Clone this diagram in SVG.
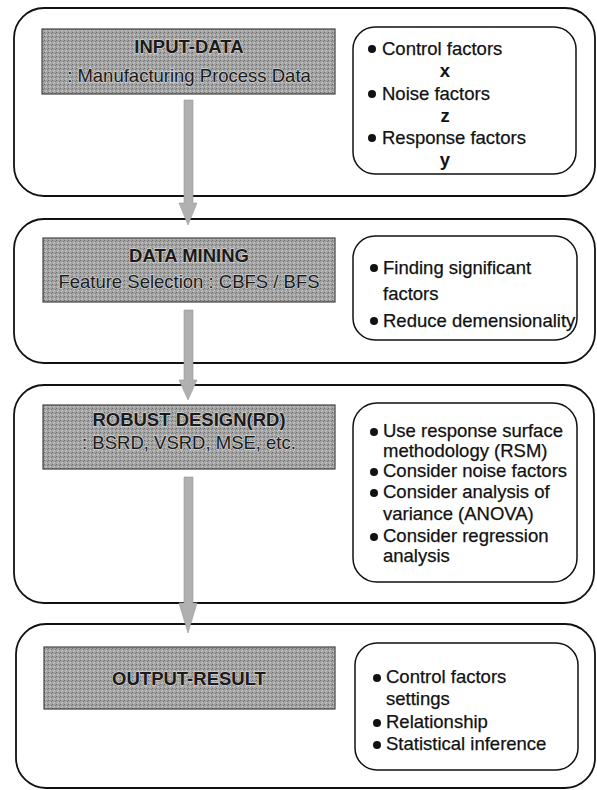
<svg xmlns="http://www.w3.org/2000/svg" width="597" height="790" viewBox="0 0 597 790">
<defs>
<style>
.outer{fill:none;stroke:#111;stroke-width:1.8}
.inner{fill:none;stroke:#111;stroke-width:1.5}
.gray{fill:#989898;stroke:#444;stroke-width:1.2}
.grain{fill:#000;opacity:0.18}
.gt{font-family:"Liberation Sans",Arial,sans-serif;font-size:18.5px;fill:#1a1a1a;text-anchor:middle;stroke:#d0d0d0;stroke-width:1.3;paint-order:stroke}
.gb{font-weight:bold}
.t{font-family:"Liberation Sans",Arial,sans-serif;font-size:18.5px;fill:#111;stroke:#111;stroke-width:0.25}
.v{font-family:"Liberation Sans",Arial,sans-serif;font-size:18.5px;font-weight:bold;fill:#111;text-anchor:middle}
.dot{fill:#111}
.arrow{fill:#b0b0b0;stroke:#999;stroke-width:0.6}
</style>
<pattern id="stip" width="4" height="4" patternUnits="userSpaceOnUse">
<rect width="4" height="4" fill="#a2a2a2"/>
<rect width="1" height="1" fill="#6a6a6a"/>
<rect x="2" y="2" width="1" height="1" fill="#d0d0d0"/>
<rect x="3" y="1" width="1" height="1" fill="#7a7a7a"/>
<rect x="1" y="3" width="1" height="1" fill="#c4c4c4"/>
</pattern>
</defs>
<rect width="597" height="790" fill="#fff"/>

<g id="input">
<rect class="outer" x="14" y="8" width="581" height="188" rx="30"/>
<rect class="gray" x="42" y="29" width="293" height="65" fill="url(#stip)" style="fill:url(#stip)"/>
<text class="gt gb" x="189" y="53">INPUT-DATA</text>
<text class="gt" x="189" y="82">: Manufacturing Process Data</text>
</g>
<g id="input-detail">
<rect class="inner" x="353" y="27" width="223" height="147" rx="22"/>
<circle class="dot" cx="372" cy="49" r="4"/>
<text class="t" x="382" y="55">Control factors</text>
<text class="v" x="445" y="77">x</text>
<circle class="dot" cx="372" cy="94" r="4"/>
<text class="t" x="382" y="100">Noise factors</text>
<text class="v" x="445" y="122">z</text>
<circle class="dot" cx="372" cy="138" r="4"/>
<text class="t" x="382" y="144">Response factors</text>
<text class="v" x="445" y="166">y</text>
</g>

<g id="mining">
<rect class="outer" x="14" y="219" width="581" height="144" rx="30"/>
<rect class="gray" x="43" y="238" width="292" height="64" style="fill:url(#stip)"/>
<text class="gt gb" x="189" y="262">DATA  MINING</text>
<text class="gt" x="189" y="288">Feature Selection : CBFS / BFS</text>
</g>
<g id="mining-detail">
<rect class="inner" x="353" y="236" width="224" height="104" rx="22"/>
<circle class="dot" cx="374" cy="268" r="4"/>
<text class="t" x="383" y="274">Finding significant</text>
<text class="t" x="383" y="300">factors</text>
<circle class="dot" cx="374" cy="321" r="4"/>
<text class="t" x="383" y="327">Reduce demensionality</text>
</g>

<g id="robust">
<rect class="outer" x="14" y="385" width="580" height="218" rx="30"/>
<rect class="gray" x="43" y="405" width="292" height="64" style="fill:url(#stip)"/>
<text class="gt gb" x="189" y="426">ROBUST DESIGN(RD)</text>
<text class="gt" x="189" y="449">: BSRD, VSRD, MSE, etc.</text>
</g>
<g id="robust-detail">
<rect class="inner" x="353" y="403" width="224" height="179" rx="24"/>
<circle class="dot" cx="374" cy="432" r="4"/>
<text class="t" x="383" y="437">Use response surface</text>
<text class="t" x="383" y="457">methodology (RSM)</text>
<circle class="dot" cx="374" cy="472" r="4"/>
<text class="t" x="383" y="477">Consider noise factors</text>
<circle class="dot" cx="374" cy="493" r="4"/>
<text class="t" x="383" y="498">Consider analysis of</text>
<text class="t" x="383" y="520">variance (ANOVA)</text>
<circle class="dot" cx="374" cy="537" r="4"/>
<text class="t" x="383" y="542">Consider regression</text>
<text class="t" x="383" y="562">analysis</text>
</g>

<g id="output">
<rect class="outer" x="16" y="624" width="579" height="164" rx="30"/>
<rect class="gray" x="44" y="647" width="291" height="62" style="fill:url(#stip)"/>
<text class="gt gb" x="189" y="685">OUTPUT-RESULT</text>
</g>
<g id="output-detail">
<rect class="inner" x="355" y="643" width="223" height="127" rx="22"/>
<circle class="dot" cx="377" cy="678" r="4"/>
<text class="t" x="386" y="683">Control factors</text>
<text class="t" x="386" y="705">settings</text>
<circle class="dot" cx="377" cy="723" r="4"/>
<text class="t" x="386" y="728">Relationship</text>
<circle class="dot" cx="377" cy="745" r="4"/>
<text class="t" x="386" y="750">Statistical inference</text>
</g>

<g id="connectors">
<polygon class="arrow" points="184,100 193,100 193,203 197,203 188,225 179,203 184,203"/>
<polygon class="arrow" points="184,310 193,310 193,380 197,380 188,400 179,380 184,380"/>
<polygon class="arrow" points="184,477 193,477 193,603 197,603 188,633 179,603 184,603"/>
</g>
</svg>
